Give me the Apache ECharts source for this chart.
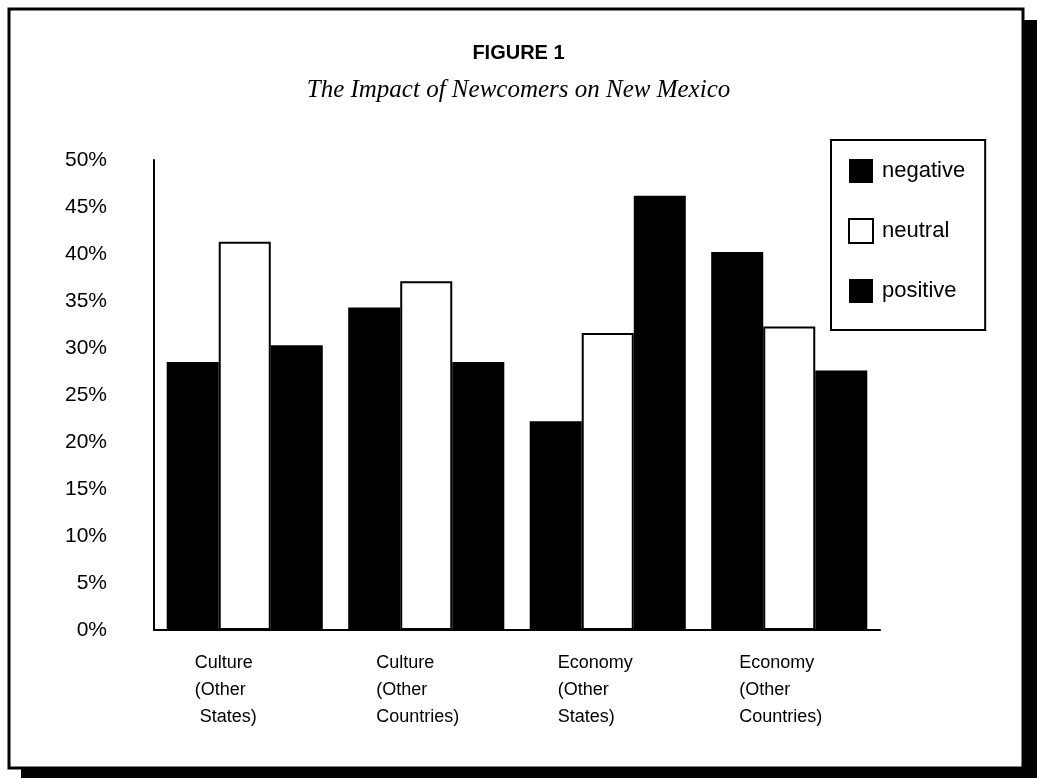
<!DOCTYPE html>
<html>
<head>
<meta charset="utf-8">
<script src="https://cdn.jsdelivr.net/npm/echarts@6/dist/echarts.min.js"></script>
<style>
  html, body { margin: 0; padding: 0; background: #fff; }
  #chart { width: 1037px; height: 778px; }
</style>
</head>
<body>
<div id="chart"></div>
<script>
// Survey categories (line breaks as printed under the axis)
const categories = [
  'Culture\n(Other\n States)',
  'Culture\n(Other\nCountries)',
  'Economy\n(Other\nStates)',
  'Economy\n(Other\nCountries)'
];
// Share of respondents, percent
const negative = [28.5, 34.3, 22.2, 40.2];
const neutral  = [41.3, 37.1, 31.6, 32.3];
const positive = [30.3, 28.5, 46.2, 27.6];
const yTicks = { min: 0, max: 50, step: 5 };

const chart = echarts.init(document.getElementById('chart'), null, { renderer: 'canvas' });

const sans = 'Arial, "Liberation Sans", Helvetica, sans-serif';
const serif = '"Times New Roman", "Liberation Serif", serif';

chart.setOption({
  backgroundColor: '#fff',
  animation: false,
  graphic: [
    // drop shadow behind the frame
    { type: 'rect', z: -20, shape: { x: 21, y: 20, width: 1016, height: 758 }, style: { fill: '#000' } },
    // framed panel
    { type: 'rect', z: -10, shape: { x: 9, y: 9, width: 1014, height: 759 },
      style: { fill: '#fff', stroke: '#000', lineWidth: 3 } }
  ],
  title: {
    text: 'FIGURE 1',
    subtext: 'The Impact of Newcomers on New Mexico',
    left: 'center',
    top: 38,
    itemGap: 15,
    textStyle: { fontFamily: sans, fontWeight: 'bold', fontSize: 20, color: '#000' },
    subtextStyle: { fontFamily: serif, fontStyle: 'italic', fontSize: 25, color: '#000' }
  },
  legend: {
    orient: 'vertical',
    left: 831,
    top: 140,
    padding: [19, 20, 27, 17],
    itemWidth: 24,
    itemHeight: 24,
    itemGap: 35,
    borderColor: '#000',
    borderWidth: 2,
    backgroundColor: '#fff',
    icon: 'rect',
    data: ['negative', 'neutral', 'positive'],
    textStyle: { fontFamily: sans, fontSize: 22, color: '#000', padding: [0, 0, 0, 4] }
  },
  grid: { left: 154, right: 157, top: 160, bottom: 148, containLabel: false },
  xAxis: {
    type: 'category',
    data: categories,
    axisLine: { show: true, lineStyle: { color: '#000', width: 2 } },
    axisTick: { show: false },
    axisLabel: {
      interval: 0,
      margin: 20,
      align: 'center',
      formatter: function (v) {
        return v.split('\n').map(function (s) { return '{a|' + s + '}'; }).join('\n');
      },
      rich: {
        a: { fontFamily: sans, fontSize: 18, color: '#000', width: 100, align: 'left', lineHeight: 27 }
      }
    },
    splitLine: { show: false }
  },
  yAxis: {
    type: 'value',
    min: yTicks.min,
    max: yTicks.max,
    interval: yTicks.step,
    axisLine: { show: true, lineStyle: { color: '#000', width: 2 } },
    axisTick: { show: false },
    splitLine: { show: false },
    axisLabel: {
      margin: 47,
      fontFamily: sans,
      fontSize: 21,
      color: '#000',
      formatter: '{value}%'
    }
  },
  series: [
    { name: 'negative', type: 'bar', data: negative, barGap: '0%', barCategoryGap: '14%',
      itemStyle: { color: '#000' } },
    { name: 'neutral', type: 'bar', data: neutral, barGap: '0%', barCategoryGap: '14%',
      itemStyle: { color: '#fff', borderColor: '#000', borderWidth: 2 } },
    { name: 'positive', type: 'bar', data: positive, barGap: '0%', barCategoryGap: '14%',
      itemStyle: { color: '#000' } }
  ]
});
</script>
</body>
</html>
